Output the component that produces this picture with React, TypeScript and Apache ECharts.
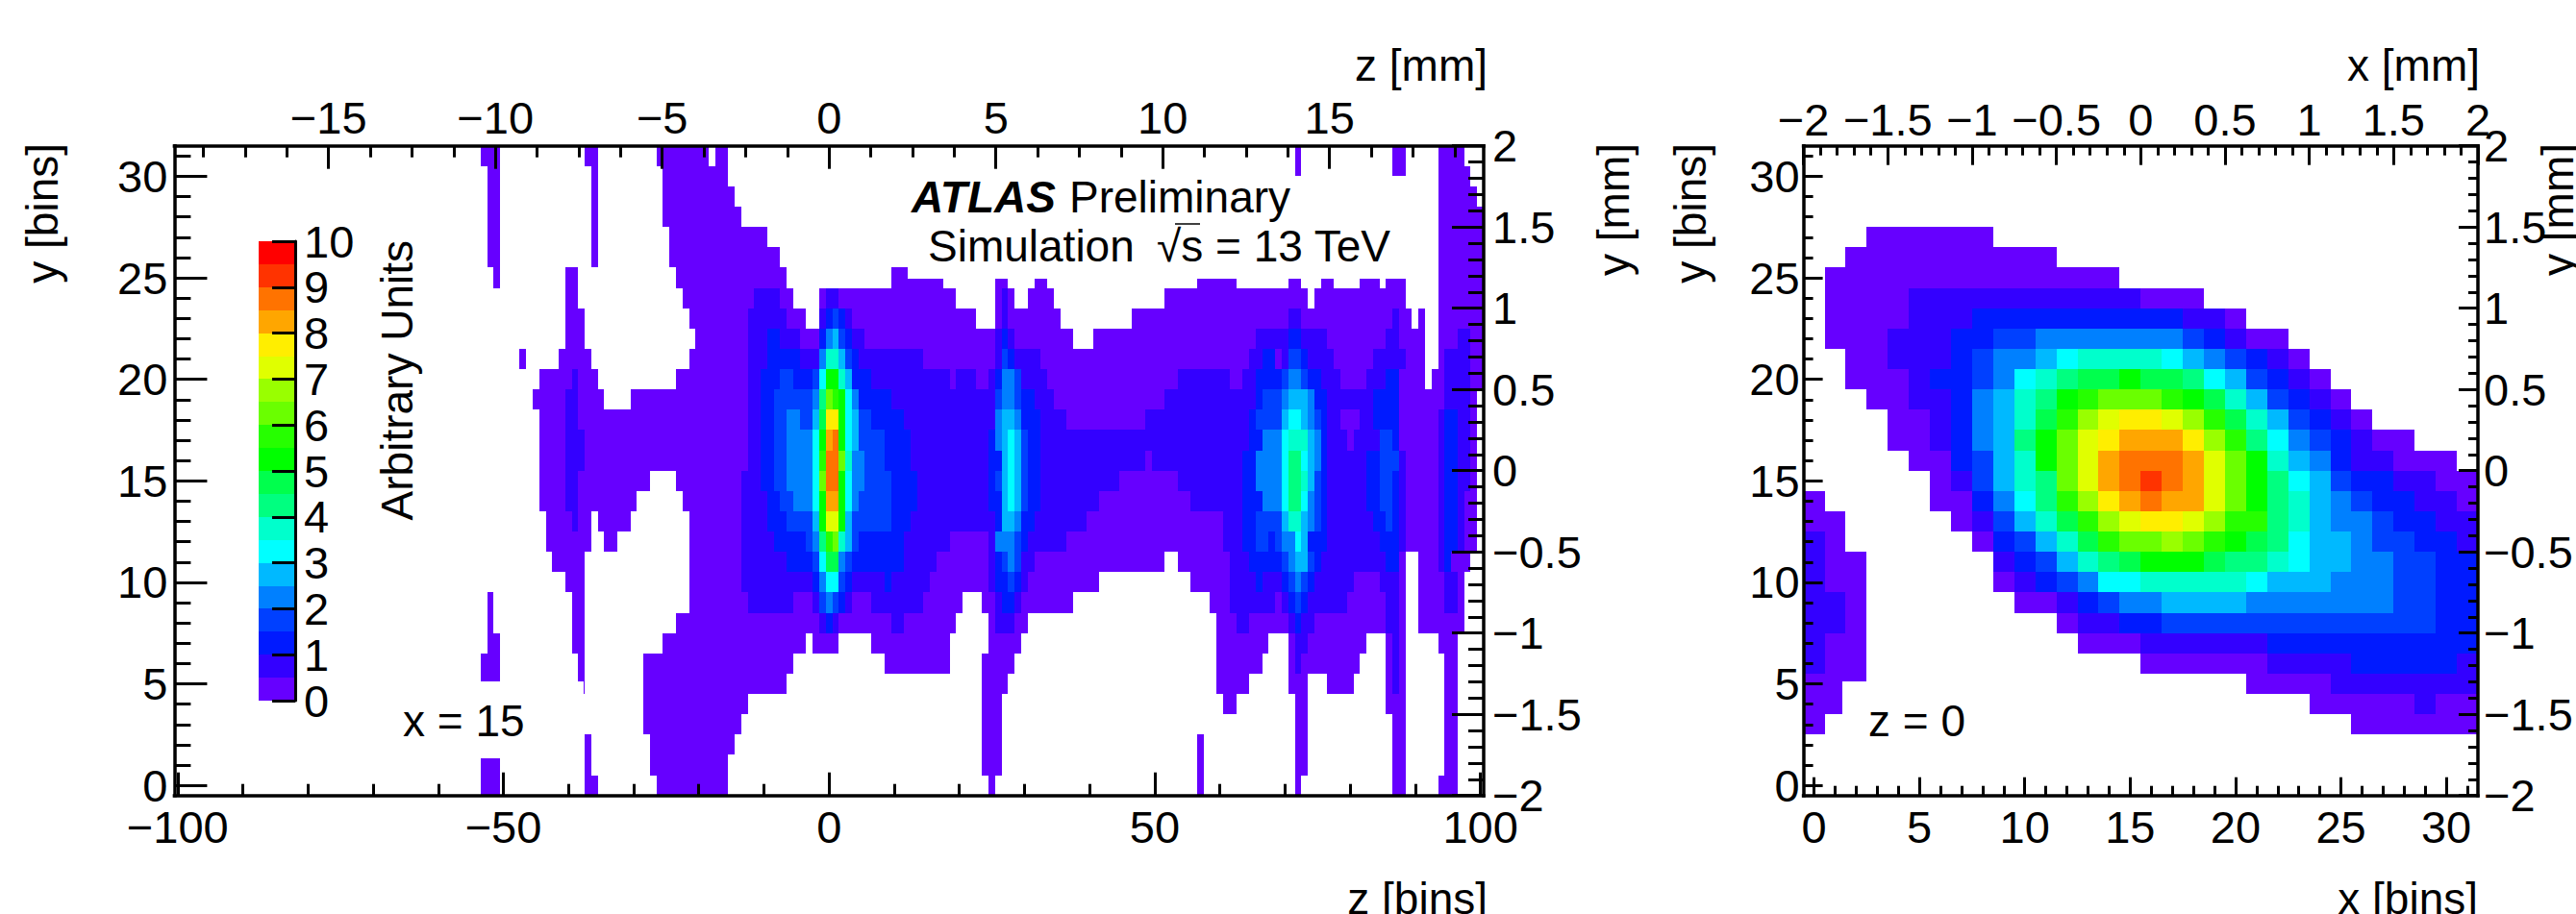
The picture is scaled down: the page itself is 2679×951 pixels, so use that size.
import React, { useEffect, useRef } from "react";
import * as echarts from "echarts";

const palette = ["#6600ff","#3300ff","#001aff","#0040ff","#0080ff","#00b9ff","#00ffff","#00ffcc","#00ff80","#00ff4d","#00ff00","#26ff00","#6aff00","#99ff00","#e0ff00","#ffee00","#ffa600","#ff7300","#ff3300","#ff0000"];
const barLevels = [0,0.5,1,1.5,2,2.5,3,3.5,4,4.5,5,5.5,6,6.5,7,7.5,8,8.5,9,9.5];

type Run = number[];
// x = 15 slice: rows y = 31 ... 0, each row lists [zFirst, zLast, level]
const zSlice: Run[][] = [
[[-53,-51,0],[-37,-36,0],[-26,-19,0],[-17,-16,0],[72,72,0],[87,88,0],[94,97,0]],
[[-52,-51,0],[-36,-36,0],[-25,-16,0],[72,72,0],[87,88,0],[94,98,0]],
[[-52,-51,0],[-36,-36,0],[-25,-15,0],[94,99,0]],
[[-52,-51,0],[-36,-36,0],[-25,-14,0],[94,100,0]],
[[-52,-51,0],[-36,-36,0],[-24,-10,0],[94,100,0]],
[[-52,-51,0],[-36,-36,0],[-24,-8,0],[94,100,0]],
[[-51,-51,0],[-40,-39,0],[-23,-7,0],[10,17,0],[26,27,0],[32,33,0],[57,62,0],[71,72,0],[76,77,0],[82,84,0],[86,88,0],[94,100,0]],
[[-40,-39,0],[-22,-12,0],[-11,-8,1],[-7,-6,0],[-1,-1,0],[0,1,1],[2,19,0],[26,26,0],[27,27,1],[28,28,0],[31,34,0],[52,73,0],[75,88,0],[94,100,0]],
[[-40,-38,0],[-21,-13,0],[-12,-7,1],[-6,-4,0],[-1,-1,1],[0,0,2],[1,1,3],[2,2,2],[3,3,1],[4,22,0],[26,26,0],[27,27,1],[28,35,0],[47,70,0],[71,72,1],[73,86,0],[87,87,1],[88,89,0],[91,91,0],[94,100,0]],
[[-40,-38,0],[-20,-13,0],[-12,-10,1],[-9,-8,2],[-7,-5,1],[-4,-2,0],[-1,-1,2],[0,0,4],[1,1,5],[2,2,3],[3,3,2],[4,5,1],[6,25,0],[26,26,1],[27,27,2],[28,28,1],[29,37,0],[41,65,0],[66,70,1],[71,72,2],[73,76,1],[77,85,0],[86,87,1],[88,91,0],[94,96,0],[97,98,1],[99,100,0]],
[[-47,-47,0],[-41,-37,0],[-21,-13,0],[-12,-10,1],[-9,-5,2],[-4,-2,1],[-1,-1,4],[0,1,7],[2,2,5],[3,3,3],[4,4,2],[5,14,1],[15,25,0],[26,26,1],[27,27,3],[28,28,2],[29,32,1],[33,64,0],[65,66,1],[67,68,2],[69,69,0],[70,70,1],[71,72,3],[73,73,2],[74,77,1],[78,83,0],[84,88,1],[89,91,0],[94,94,0],[95,98,1],[99,100,0]],
[[-44,-40,0],[-39,-39,1],[-38,-36,0],[-23,-13,0],[-12,-11,1],[-10,-8,2],[-7,-6,3],[-5,-3,2],[-2,-2,3],[-1,-1,6],[0,1,10],[2,2,7],[3,3,5],[4,6,2],[7,18,1],[19,19,0],[20,22,1],[23,24,0],[25,25,1],[26,26,2],[27,28,4],[29,29,3],[30,33,1],[34,53,0],[54,61,1],[62,63,0],[64,65,1],[66,69,2],[70,70,3],[71,72,4],[73,73,3],[74,75,2],[76,78,1],[79,82,0],[83,85,1],[86,87,2],[88,91,0],[93,94,0],[95,98,1],[99,100,0]],
[[-45,-41,0],[-40,-39,1],[-38,-35,0],[-30,-13,0],[-12,-11,1],[-10,-9,2],[-8,-3,3],[-2,-2,4],[-1,-1,8],[0,0,12],[1,1,11],[2,2,10],[3,3,6],[4,4,4],[5,9,2],[10,25,1],[26,26,3],[27,28,4],[29,29,3],[30,31,2],[32,34,1],[35,51,0],[52,65,1],[66,66,2],[67,69,3],[70,70,4],[71,73,5],[74,74,4],[75,76,2],[77,83,1],[84,87,2],[88,94,0],[95,98,1],[99,99,0]],
[[-44,-41,0],[-40,-39,1],[-38,-13,0],[-12,-11,1],[-10,-9,2],[-8,-7,3],[-6,-5,4],[-4,-3,3],[-2,-2,5],[-1,-1,9],[0,1,15],[2,2,10],[3,3,6],[4,4,5],[5,6,3],[7,11,2],[12,25,1],[26,26,4],[27,28,5],[29,29,4],[30,32,2],[33,36,1],[37,48,0],[49,64,1],[65,65,2],[66,69,3],[70,70,5],[71,72,6],[73,73,5],[74,74,4],[75,75,3],[76,76,2],[77,78,1],[79,81,0],[82,83,1],[84,87,2],[88,93,0],[94,94,1],[95,96,2],[97,98,1],[99,99,0]],
[[-44,-41,0],[-40,-38,1],[-37,-13,0],[-12,-11,1],[-10,-9,2],[-8,-7,3],[-6,-3,4],[-2,-2,6],[-1,-1,10],[0,0,16],[1,1,17],[2,2,10],[3,3,6],[4,4,5],[5,8,3],[9,12,2],[13,24,1],[25,25,2],[26,26,4],[27,27,5],[28,28,6],[29,29,5],[30,30,3],[31,32,2],[33,64,1],[65,66,2],[67,69,4],[70,70,6],[71,73,7],[74,74,5],[75,75,4],[76,76,2],[77,79,1],[80,80,0],[81,84,1],[85,86,3],[87,87,2],[88,93,0],[94,94,1],[95,96,2],[97,98,1],[99,99,0]],
[[-44,-41,0],[-40,-38,1],[-37,-13,0],[-12,-11,1],[-10,-9,2],[-8,-7,3],[-6,-3,4],[-2,-2,6],[-1,-1,11],[0,1,17],[2,2,12],[3,3,7],[4,5,4],[6,8,3],[9,12,2],[13,24,1],[25,26,2],[27,27,5],[28,28,6],[29,29,5],[30,30,3],[31,32,2],[33,48,1],[49,49,0],[50,63,1],[64,65,2],[66,69,4],[70,70,6],[71,72,8],[73,73,6],[74,74,5],[75,75,4],[76,76,2],[77,82,1],[83,84,2],[85,87,3],[88,88,1],[89,93,0],[94,94,1],[95,96,2],[97,98,1],[99,99,0]],
[[-44,-41,0],[-40,-39,1],[-38,-28,0],[-23,-14,0],[-13,-11,1],[-10,-9,2],[-8,-7,3],[-6,-3,4],[-2,-2,6],[-1,-1,12],[0,1,17],[2,2,10],[3,3,6],[4,5,4],[6,9,3],[10,13,2],[14,24,1],[25,25,2],[26,26,3],[27,27,5],[28,28,6],[29,29,5],[30,30,3],[31,32,2],[33,44,1],[45,53,0],[54,63,1],[64,65,2],[66,69,4],[70,70,6],[71,72,8],[73,73,7],[74,74,5],[75,75,3],[76,76,2],[77,82,1],[83,84,2],[85,86,3],[87,87,2],[88,88,1],[89,93,0],[94,94,1],[95,96,2],[97,98,1],[99,99,0]],
[[-44,-41,0],[-40,-39,1],[-38,-30,0],[-22,-14,0],[-13,-10,1],[-9,-8,2],[-7,-6,3],[-5,-3,4],[-2,-2,6],[-1,-1,10],[0,1,16],[2,2,10],[3,3,6],[4,4,4],[5,9,3],[10,13,2],[14,24,1],[25,26,2],[27,27,5],[28,28,6],[29,29,5],[30,30,3],[31,32,2],[33,41,1],[42,55,0],[56,63,1],[64,66,2],[67,69,4],[70,70,6],[71,72,8],[73,73,6],[74,74,4],[75,75,3],[76,76,2],[77,82,1],[83,84,2],[85,86,3],[87,87,2],[88,88,1],[89,93,0],[94,94,1],[95,96,2],[97,97,1],[98,99,0]],
[[-43,-40,0],[-39,-39,1],[-38,-37,0],[-35,-31,0],[-21,-14,0],[-13,-10,1],[-9,-7,2],[-6,-3,3],[-2,-2,5],[-1,-1,10],[0,1,14],[2,2,10],[3,3,5],[4,9,3],[10,12,2],[13,25,1],[26,26,2],[27,28,5],[29,29,4],[30,31,2],[32,39,1],[40,60,0],[61,63,1],[64,65,2],[66,69,3],[70,70,5],[71,72,7],[73,73,5],[74,74,4],[75,75,3],[76,76,2],[77,83,1],[84,85,2],[86,86,3],[87,87,2],[88,88,1],[89,93,0],[94,94,1],[95,96,2],[97,97,1],[98,99,0]],
[[-43,-37,0],[-34,-33,0],[-21,-14,0],[-13,-9,1],[-8,-4,2],[-3,-3,3],[-2,-2,4],[-1,-1,8],[0,0,11],[1,1,12],[2,2,7],[3,3,5],[4,4,3],[5,11,2],[12,18,1],[19,24,0],[25,25,1],[26,28,4],[29,29,3],[30,30,2],[31,36,1],[37,60,0],[61,63,1],[64,65,2],[66,67,3],[68,68,2],[69,69,3],[70,71,4],[72,72,6],[73,73,5],[74,76,2],[77,84,1],[85,87,2],[88,88,1],[89,93,0],[94,94,1],[95,96,2],[97,97,1],[98,99,0]],
[[-42,-38,0],[-21,-14,0],[-13,-7,1],[-6,-3,2],[-2,-2,3],[-1,-1,6],[0,1,9],[2,2,4],[3,3,3],[4,11,2],[12,16,1],[17,24,0],[25,25,1],[26,26,2],[27,27,3],[28,28,4],[29,29,3],[30,31,1],[32,51,0],[54,61,0],[62,64,1],[65,69,2],[70,70,3],[71,71,4],[72,73,5],[74,74,3],[75,75,2],[76,85,1],[86,87,2],[88,88,0],[91,93,0],[94,94,1],[95,95,2],[96,98,0]],
[[-40,-38,0],[-21,-14,0],[-13,-3,1],[-2,-2,2],[-1,-1,4],[0,1,6],[2,2,3],[3,3,2],[4,8,1],[9,9,2],[10,15,1],[16,24,0],[25,25,1],[26,27,2],[28,28,3],[29,29,2],[30,30,1],[31,41,0],[56,61,0],[62,65,1],[66,66,2],[67,69,1],[70,70,2],[71,71,3],[72,72,4],[73,73,3],[74,74,2],[75,80,1],[81,84,0],[85,87,1],[88,88,0],[91,94,0],[95,96,1],[97,97,0]],
[[-52,-52,0],[-39,-38,0],[-21,-13,0],[-12,-6,1],[-5,-3,0],[-2,-2,1],[-1,-1,3],[0,0,4],[1,1,3],[2,2,2],[3,3,1],[4,6,0],[7,14,1],[15,20,0],[24,25,0],[26,26,1],[27,28,2],[29,29,1],[30,37,0],[59,61,0],[62,68,1],[69,69,0],[70,70,1],[71,71,2],[72,72,3],[73,73,2],[74,79,1],[80,85,0],[86,87,1],[88,88,0],[91,94,0],[95,96,1],[97,97,0]],
[[-52,-52,0],[-39,-38,0],[-23,-2,0],[-1,-1,1],[0,0,2],[1,1,1],[2,9,0],[10,11,1],[12,19,0],[25,25,0],[26,28,1],[29,30,0],[60,62,0],[63,64,1],[65,70,0],[71,71,1],[72,72,2],[73,74,1],[75,85,0],[86,87,1],[88,88,0],[91,97,0]],
[[-52,-51,0],[-39,-38,0],[-25,-4,0],[-2,1,0],[7,18,0],[25,29,0],[60,67,0],[71,71,0],[72,73,1],[74,82,0],[86,86,0],[87,87,1],[88,88,0],[94,96,0]],
[[-53,-51,0],[-38,-38,0],[-28,-6,0],[9,18,0],[24,28,0],[60,66,0],[71,71,0],[72,72,1],[73,81,0],[86,86,0],[87,87,1],[88,88,0],[95,96,0]],
[[-53,-51,0],[-38,-38,0],[-28,-7,0],[24,27,0],[60,64,0],[71,73,0],[77,80,0],[86,86,0],[87,87,1],[88,88,0],[95,96,0]],
[[-28,-13,0],[24,26,0],[61,62,0],[72,73,0],[86,88,0],[95,96,0]],
[[-28,-14,0],[24,26,0],[72,73,0],[87,88,0],[95,96,0]],
[[-37,-37,0],[-27,-15,0],[24,26,0],[57,57,0],[72,73,0],[87,88,0],[95,96,0]],
[[-53,-51,0],[-37,-37,0],[-27,-16,0],[24,26,0],[57,57,0],[72,73,0],[87,88,0],[95,96,0]],
[[-53,-51,0],[-37,-36,0],[-26,-16,0],[25,25,0],[57,57,0],[72,72,0],[87,88,0],[94,96,0]],
];

// z = 0 slice: rows y = 27 ... 3, each row lists [xFirst, xLast, level]
const xSlice: Run[][] = [
[[3,8,0]],
[[2,11,0]],
[[1,14,0]],
[[1,4,0],[5,15,1],[16,18,0]],
[[1,4,0],[5,7,1],[8,17,2],[18,19,1],[20,20,0]],
[[1,3,0],[4,6,1],[7,8,2],[9,10,3],[11,17,4],[18,18,3],[19,19,2],[20,20,1],[21,22,0]],
[[2,3,0],[4,6,1],[7,7,2],[8,8,3],[9,10,4],[11,11,5],[12,12,6],[13,16,7],[17,17,6],[18,18,5],[19,19,4],[20,20,3],[21,21,2],[22,22,1],[23,23,0]],
[[2,4,0],[5,5,1],[6,7,2],[8,8,3],[9,9,4],[10,10,6],[11,11,7],[12,12,8],[13,14,9],[15,15,10],[16,17,9],[18,18,8],[19,19,6],[20,20,5],[21,21,3],[22,22,2],[23,23,1],[24,24,0]],
[[3,4,0],[5,6,1],[7,7,2],[8,8,4],[9,9,5],[10,10,7],[11,11,8],[12,12,10],[13,13,11],[14,16,12],[17,17,11],[18,18,10],[19,19,9],[20,20,7],[21,21,5],[22,22,3],[23,23,2],[24,24,1],[25,25,0]],
[[4,5,0],[6,6,1],[7,7,2],[8,8,4],[9,9,5],[10,10,7],[11,11,9],[12,12,11],[13,13,13],[14,14,14],[15,16,15],[17,17,14],[18,18,13],[19,19,11],[20,20,9],[21,21,7],[22,22,5],[23,23,3],[24,24,2],[25,25,1],[26,26,0]],
[[4,5,0],[6,6,1],[7,7,2],[8,8,4],[9,9,5],[10,10,8],[11,11,10],[12,12,12],[13,13,14],[14,14,15],[15,17,16],[18,18,15],[19,19,13],[20,20,11],[21,21,8],[22,22,6],[23,23,4],[24,24,3],[25,25,2],[26,26,1],[27,28,0]],
[[5,6,0],[7,7,2],[8,8,3],[9,9,5],[10,10,7],[11,11,10],[12,12,12],[13,13,14],[14,14,16],[15,17,17],[18,18,16],[19,19,14],[20,20,12],[21,21,10],[22,22,7],[23,23,5],[24,24,4],[25,25,2],[26,27,1],[28,30,0]],
[[6,6,0],[7,7,1],[8,8,3],[9,9,5],[10,10,7],[11,11,8],[12,12,12],[13,13,14],[14,14,16],[15,15,17],[16,16,18],[17,17,17],[18,18,16],[19,19,14],[20,20,12],[21,21,10],[22,22,8],[23,23,6],[24,24,5],[25,25,3],[26,27,2],[28,29,1],[30,31,0]],
[[0,0,0],[6,7,0],[8,8,2],[9,9,4],[10,10,6],[11,11,8],[12,12,11],[13,13,13],[14,14,15],[15,15,16],[16,16,17],[17,18,16],[19,19,14],[20,20,12],[21,21,10],[22,22,8],[23,23,7],[24,24,5],[25,25,4],[26,26,3],[27,28,2],[29,30,1],[31,31,0]],
[[0,1,0],[7,7,0],[8,8,1],[9,9,3],[10,10,5],[11,11,7],[12,12,9],[13,13,11],[14,14,13],[15,15,14],[16,17,15],[18,18,14],[19,19,13],[20,21,11],[22,22,8],[23,23,7],[24,24,5],[25,26,4],[27,27,3],[28,29,2],[30,31,1]],
[[0,0,1],[1,1,0],[8,8,0],[9,9,2],[10,10,3],[11,11,5],[12,12,7],[13,13,9],[14,14,11],[15,16,12],[17,17,13],[18,18,12],[19,19,11],[20,20,10],[21,21,9],[22,22,8],[23,23,6],[24,25,5],[26,26,4],[27,28,3],[29,30,2],[31,31,1]],
[[0,0,1],[1,2,0],[9,9,1],[10,10,2],[11,11,3],[12,12,5],[13,13,7],[14,14,8],[15,15,9],[16,18,10],[19,19,9],[20,21,8],[22,22,7],[23,23,6],[24,25,5],[26,27,4],[28,29,3],[30,31,2]],
[[0,0,1],[1,2,0],[9,9,0],[10,10,1],[11,11,2],[12,12,3],[13,13,4],[14,15,6],[16,20,7],[21,21,6],[22,24,5],[25,27,4],[28,29,3],[30,31,2]],
[[0,1,1],[2,2,0],[10,11,0],[12,12,1],[13,13,2],[14,14,3],[15,16,4],[17,20,5],[21,27,4],[28,29,3],[30,31,2]],
[[0,1,1],[2,2,0],[12,12,0],[13,14,1],[15,16,2],[17,29,3],[30,31,2]],
[[0,0,1],[1,2,0],[13,15,0],[16,21,1],[22,31,2]],
[[0,0,1],[1,2,0],[16,21,0],[22,25,1],[26,30,2],[31,31,1]],
[[0,2,0],[21,24,0],[25,31,1]],
[[0,1,0],[24,28,0],[29,29,1],[30,31,0]],
[[0,0,0],[26,31,0]],
];

const zBinTicks = [-100,-50,0,50,100];
const zMmTicks = [-15,-10,-5,0,5,10,15];
const yBinTicks = [0,5,10,15,20,25,30];
const mmTicks = [-2,-1.5,-1,-0.5,0,0.5,1,1.5,2];
const xMmTicks = mmTicks;
const xBinTicks = [0,5,10,15,20,25,30];
const barTicks = [0,1,2,3,4,5,6,7,8,9,10];

const steps = (from: number, to: number, step: number) => {
  const out: number[] = [];
  const n = Math.round((to - from) / step);
  for (let i = 0; i <= n; i++) out.push(Math.round((from + i * step) * 1000) / 1000);
  return out;
};

const FONT = "Liberation Sans";
const fmt = (v: number) => String(v).replace("-", "\u2212");

function axisPair(o: { grid: number; pos: string; min: number; max: number; major: number[]; minor: number[]; majorLen: number; minorLen: number; margin: number }) {
  const base = { gridIndex: o.grid, type: "value", position: o.pos, min: o.min, max: o.max, z: 10, splitLine: { show: false } };
  return [
    {
      ...base,
      axisLine: { show: true, onZero: false, lineStyle: { color: "#000", width: 3.5, cap: "square" } },
      axisTick: { show: true, inside: true, length: o.majorLen, customValues: o.major, lineStyle: { color: "#000", width: 3 } },
      axisLabel: { show: true, customValues: o.major, margin: o.margin, fontSize: 47, fontFamily: FONT, color: "#000", formatter: fmt },
    },
    {
      ...base,
      axisLine: { show: false, onZero: false },
      axisTick: { show: true, inside: true, length: o.minorLen, customValues: o.minor, lineStyle: { color: "#000", width: 3 } },
      axisLabel: { show: false },
    },
  ];
}

const flatten = (rows: Run[][], topY: number) => {
  const out: number[][] = [];
  rows.forEach((row, i) => row.forEach((r) => out.push([r[0], r[1], topY - i, r[2]])));
  return out;
};

const renderCell = (_: any, api: any) => {
  const a = api.coord([api.value(0) - 0.5, api.value(2) + 0.5]);
  const b = api.coord([api.value(1) + 0.5, api.value(2) - 0.5]);
  const x = Math.round(a[0]), y = Math.round(a[1]);
  return { type: "rect", shape: { x, y, width: Math.round(b[0]) - x, height: Math.round(b[1]) - y }, style: { fill: palette[api.value(3)] } };
};
const renderBar = (_: any, api: any) => {
  const a = api.coord([0, api.value(0) + 0.5]);
  const b = api.coord([1, api.value(0)]);
  const x = Math.round(a[0]), y = Math.round(a[1]);
  return { type: "rect", shape: { x, y, width: Math.round(b[0]) - x, height: Math.round(b[1]) - y }, style: { fill: palette[api.value(1)] } };
};

const label = (text: string, x: number, y: number, size: number, extra: any = {}) => ({
  type: "text", x, y, z: 30, rotation: extra.rotation || 0,
  style: { text, fontSize: size, fontFamily: FONT, fill: "#000", align: extra.align || "left", verticalAlign: "middle", fontWeight: extra.weight || "normal", fontStyle: extra.style || "normal" },
});
const box = (x: number, y: number, width: number, height: number) => ({ type: "rect", z: 20, shape: { x, y, width, height }, style: { fill: "#fff" } });

export default function App() {
  const ref = useRef<HTMLDivElement>(null);
  useEffect(() => {
    const chart = echarts.init(ref.current!, undefined, { renderer: "svg" });
    const L = { left: 181.4, top: 151.7, width: 1361.6, height: 676 };
    const R = { left: 1875.6, top: 151.7, width: 701.4, height: 676 };
    const B = { left: 269, top: 251, width: 38, height: 478 };
    chart.setOption({
      animation: false,
      backgroundColor: "#fff",
      grid: [L, R, B].map((g) => ({ ...g, containLabel: false, show: false })),
      xAxis: [
        ...axisPair({ grid: 0, pos: "bottom", min: -100.5, max: 100.5, major: zBinTicks, minor: steps(-100, 100, 10), majorLen: 24, minorLen: 12, margin: 9 }),
        ...axisPair({ grid: 0, pos: "top", min: -19.62, max: 19.62, major: zMmTicks, minor: steps(-18.75, 18.75, 1.25), majorLen: 24, minorLen: 12, margin: 6 }),
        ...axisPair({ grid: 1, pos: "bottom", min: -0.5, max: 31.5, major: xBinTicks, minor: steps(0, 31, 1), majorLen: 19, minorLen: 10, margin: 9 }),
        ...axisPair({ grid: 1, pos: "top", min: -2, max: 2, major: xMmTicks, minor: steps(-2, 2, 0.1), majorLen: 20, minorLen: 10, margin: 4 }),
        { gridIndex: 2, type: "value", min: 0, max: 1, show: false },
      ],
      yAxis: [
        ...axisPair({ grid: 0, pos: "left", min: -0.5, max: 31.5, major: yBinTicks, minor: steps(0, 31, 1), majorLen: 34, minorLen: 17, margin: 7 }),
        ...axisPair({ grid: 0, pos: "right", min: -2, max: 2, major: mmTicks, minor: steps(-2, 2, 0.1), majorLen: 33, minorLen: 16, margin: 9 }),
        ...axisPair({ grid: 1, pos: "left", min: -0.5, max: 31.5, major: yBinTicks, minor: steps(0, 31, 1), majorLen: 20, minorLen: 10, margin: 4 }),
        ...axisPair({ grid: 1, pos: "right", min: -2, max: 2, major: mmTicks, minor: steps(-2, 2, 0.1), majorLen: 20, minorLen: 10, margin: 6 }),
        {
          gridIndex: 2, type: "value", position: "right", min: 0, max: 10, interval: 1, z: 10, splitLine: { show: false },
          axisLine: { show: true, onZero: false, lineStyle: { color: "#000", width: 3 } },
          axisTick: { show: true, inside: true, length: 24, customValues: barTicks, lineStyle: { color: "#000", width: 3 } },
          axisLabel: { show: true, customValues: barTicks, margin: 9, fontSize: 47, fontFamily: FONT, color: "#000" },
        },
      ],
      series: [
        { type: "custom", xAxisIndex: 0, yAxisIndex: 0, coordinateSystem: "cartesian2d", clip: true, silent: true, encode: { x: 0, y: 2 }, renderItem: renderCell, data: flatten(zSlice, 31) },
        { type: "custom", xAxisIndex: 4, yAxisIndex: 4, coordinateSystem: "cartesian2d", clip: true, silent: true, encode: { x: 0, y: 2 }, renderItem: renderCell, data: flatten(xSlice, 27) },
        { type: "custom", xAxisIndex: 8, yAxisIndex: 8, coordinateSystem: "cartesian2d", silent: true, encode: { y: 0 }, renderItem: renderBar, data: barLevels.map((v, i) => [v, i]) },
      ],
      graphic: [
        box(944, 183, 521, 107),
        box(400, 709, 207, 80),
        box(1916, 709, 200, 80),
        label("z [bins]", 1547, 935, 46, { align: "right" }),
        label("x [bins]", 2577, 935, 46, { align: "right" }),
        label("z [mm]", 1547, 68, 46, { align: "right" }),
        label("x [mm]", 2579, 68, 46, { align: "right" }),
        label("y [bins]", 44, 149, 46, { align: "right", rotation: Math.PI / 2 }),
        label("y [mm]", 1678, 149, 46, { align: "right", rotation: Math.PI / 2 }),
        label("y [bins]", 1758, 149, 46, { align: "right", rotation: Math.PI / 2 }),
        label("y [mm]", 2660, 149, 46, { align: "right", rotation: Math.PI / 2 }),
        label("Arbitrary Units", 413, 250, 46, { align: "right", rotation: Math.PI / 2 }),
        label("ATLAS", 948, 205, 46, { weight: "bold", style: "italic" }),
        label("Preliminary", 1112, 205, 46),
        label("Simulation", 965, 256, 46),
        label("\u221As = 13 TeV", 1203, 256, 46),
        { type: "line", z: 30, shape: { x1: 1222, y1: 233, x2: 1248, y2: 233 }, style: { stroke: "#000", lineWidth: 1.5 } },
        label("x = 15", 419, 750, 46),
        label("z = 0", 1943, 750, 46),
      ],
    });
    return () => chart.dispose();
  }, []);
  return <div ref={ref} style={{ position: "absolute", left: 0, top: 0, width: 2679, height: 951, background: "#fff" }} />;
}
